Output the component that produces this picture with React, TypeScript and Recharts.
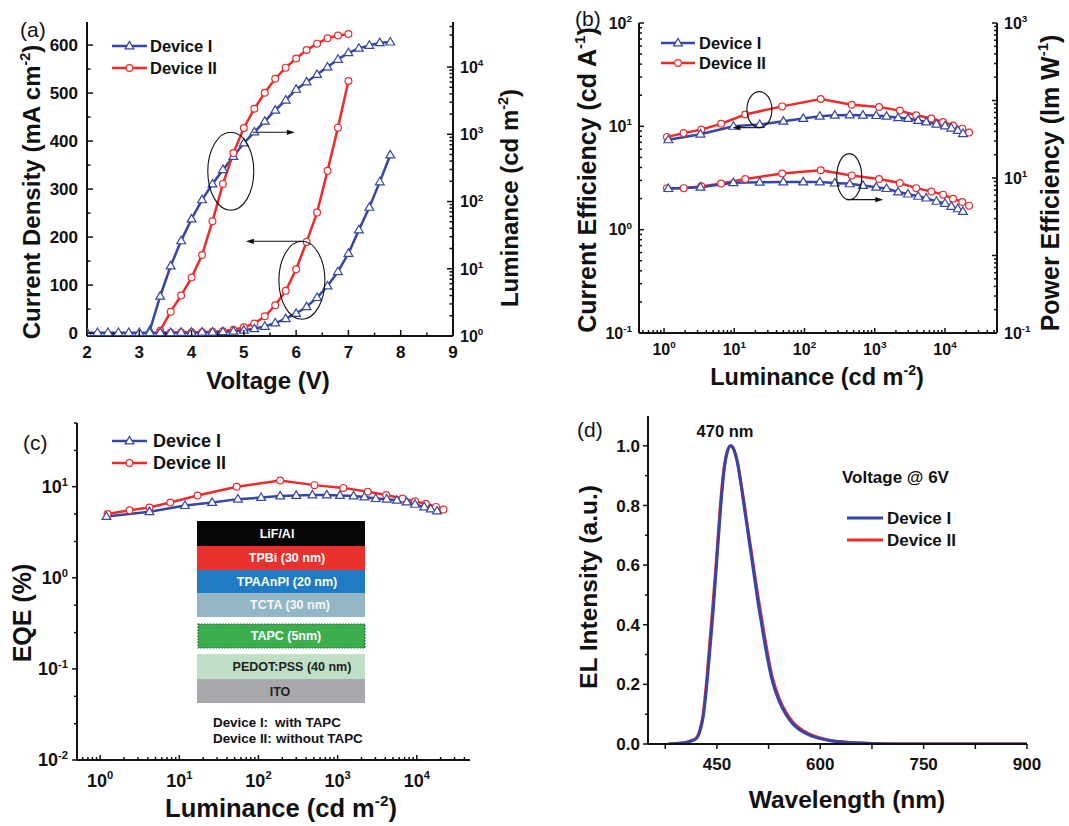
import React from 'react';
import { LineChart, Line, XAxis, YAxis, ReferenceDot } from 'recharts';

const FONT = '"Liberation Sans", Arial, Helvetica, sans-serif';
const BLUE = '#3446a8';
const RED = '#ee2b2b';
const INK = '#111';

// ---- (a) current density / luminance vs voltage ----
const jVolts1 = [2.0, 2.2, 2.4, 2.6, 2.8, 3.0, 3.2, 3.4, 3.6, 3.8, 4.0, 4.2, 4.4, 4.6, 4.8, 5.0, 5.2, 5.4, 5.6, 5.8, 6.0, 6.2, 6.4, 6.6, 6.8, 7.0, 7.2, 7.4, 7.6, 7.8];
const jDev1 = [1, 1, 1, 1, 1, 1, 1, 1, 1, 1.5, 1.5, 2, 2, 3, 4, 6, 9, 14, 21, 30, 41, 55, 74, 98, 128, 166, 215, 262, 315, 371];
const jVolts2 = [3.4, 3.6, 3.8, 4.0, 4.2, 4.4, 4.6, 4.8, 5.0, 5.2, 5.4, 5.6, 5.8, 6.0, 6.2, 6.4, 6.6, 6.8, 7.0];
const jDev2 = [1, 1, 1.5, 2, 2, 3, 4, 7, 12, 20, 35, 58, 88, 133, 190, 251, 338, 428, 525];
const lVolts1 = [3.2, 3.4, 3.6, 3.8, 4.0, 4.2, 4.4, 4.6, 4.8, 5.0, 5.2, 5.4, 5.6, 5.8, 6.0, 6.2, 6.4, 6.6, 6.8, 7.0, 7.2, 7.4, 7.6, 7.8];
const lumDev1 = [1.2, 3.9, 11, 26, 55, 106, 182, 298, 468, 741, 1080, 1560, 2280, 3220, 4660, 6000, 7770, 10000, 13000, 16300, 19000, 21000, 23000, 23500];
const lVolts2 = [3.4, 3.6, 3.8, 4.0, 4.2, 4.4, 4.6, 4.8, 5.0, 5.2, 5.4, 5.6, 5.8, 6.0, 6.2, 6.4, 6.6, 6.8, 7.0];
const lumDev2 = [1.2, 2.3, 4, 7.4, 16, 51, 183, 525, 1240, 2400, 4140, 6700, 9800, 13400, 17900, 22300, 26800, 29500, 30900];

// ---- (b) efficiencies vs luminance ----
const effLum1 = [1.15, 3.3, 9.7, 23, 50, 96, 165, 270, 440, 680, 1050, 1470, 2150, 2970, 4150, 5400, 7550, 10000, 12300, 15200, 18000];
const ceDev1 = [7.4, 8.4, 10, 10.4, 11.2, 11.9, 12.5, 12.8, 12.9, 12.8, 12.7, 12.5, 12.1, 11.9, 11.4, 11.0, 10.5, 10.1, 9.6, 9.1, 8.5];
const peDev1 = [7.3, 7.6, 8.7, 8.8, 8.9, 8.9, 8.9, 8.6, 8.4, 8.0, 7.6, 7.3, 6.6, 6.2, 5.8, 5.5, 5.0, 4.7, 4.3, 4.0, 3.7];
const effLum2 = [1.1, 1.9, 3.4, 6.5, 14.3, 48, 170, 470, 1150, 2270, 3900, 6400, 9400, 13000, 17600, 22000];
const ceDev2 = [7.9, 8.6, 9.3, 10.6, 13.0, 15.6, 18.4, 16.2, 15.4, 14.2, 12.8, 11.9, 11.0, 10.2, 9.5, 8.7];
const peDev2 = [7.4, 7.4, 7.8, 8.5, 9.7, 11.4, 12.6, 10.8, 9.7, 8.6, 7.4, 6.7, 6.1, 5.4, 4.9, 4.4];

// ---- (c) EQE vs luminance ----
const eqeLum1 = [1.2, 4.2, 11.8, 26, 55, 108, 188, 300, 480, 730, 1070, 1590, 2180, 3030, 4170, 5600, 7450, 9500, 12400, 15000, 18000];
const eqeDev1 = [4.7, 5.3, 6.2, 6.7, 7.3, 7.6, 7.9, 8.0, 8.1, 8.1, 8.0, 7.9, 7.7, 7.4, 7.3, 7.1, 6.8, 6.4, 6.0, 5.7, 5.4];
const eqeLum2 = [1.24, 2.35, 4.2, 7.7, 17, 53, 188, 510, 1180, 2400, 4100, 6600, 9500, 13000, 17500, 21700];
const eqeDev2 = [5.0, 5.5, 5.9, 6.7, 8.0, 10, 11.7, 10.4, 9.7, 8.8, 8.1, 7.4, 6.9, 6.5, 6.0, 5.6];

// ---- (d) EL spectra at 6 V ----
const wavelengths = [380, 400, 410, 420, 425, 430, 435, 440, 445, 450, 455, 460, 465, 470, 475, 480, 485, 490, 495, 500, 505, 510, 515, 520, 530, 540, 550, 560, 570, 580, 590, 600, 615, 630, 650, 680, 720, 800, 900];
const elDev1 = [0, 0.003, 0.008, 0.018, 0.04, 0.09, 0.19, 0.32, 0.46, 0.62, 0.78, 0.91, 0.98, 1.0, 0.985, 0.94, 0.87, 0.79, 0.71, 0.63, 0.55, 0.47, 0.4, 0.33, 0.215, 0.145, 0.1, 0.068, 0.048, 0.035, 0.025, 0.018, 0.011, 0.007, 0.004, 0.001, 0, 0, 0];
const elDev2 = [0, 0.003, 0.009, 0.02, 0.045, 0.1, 0.21, 0.35, 0.49, 0.64, 0.8, 0.92, 0.98, 1.0, 0.985, 0.945, 0.875, 0.8, 0.72, 0.645, 0.565, 0.49, 0.42, 0.35, 0.228, 0.155, 0.107, 0.074, 0.053, 0.038, 0.028, 0.02, 0.012, 0.008, 0.004, 0.0015, 0, 0, 0];

// device stack inset of (c)
const stackLayers = ['LiF/Al', 'TPBi (30 nm)', 'TPAAnPI (20 nm)', 'TCTA (30 nm)', 'TAPC (5nm)', 'PEDOT:PSS (40 nm)', 'ITO'];

const pts = (xs: number[], ys: number[]) => xs.map((x, i) => ({ x, y: ys[i] }));

const logTicks = (lo: number, hi: number, mult = [1, 2, 3, 4, 5, 6, 7, 8, 9]) => {
  const out: number[] = [];
  for (let e = Math.floor(Math.log10(lo)) - 1; e <= Math.ceil(Math.log10(hi)); e++) {
    for (const m of mult) {
      const v = +(m * Math.pow(10, e)).toPrecision(4);
      if (v >= lo * 0.999 && v <= hi * 1.001) out.push(v);
    }
  }
  return out;
};
const isDecade = (v: number) => Math.abs(Math.log10(v) - Math.round(Math.log10(v))) < 1e-6;

const powLabel = (v: number, fs: number) => (
  <>
    <tspan>10</tspan>
    <tspan dy={-fs * 0.42} fontSize={fs * 0.62}>{Math.round(Math.log10(v))}</tspan>
  </>
);

type Side = 'bottom' | 'top' | 'left' | 'right';
interface TickCfg {
  side: Side;
  inward: boolean;
  major: (v: number) => boolean;
  label?: (v: number, fs: number) => React.ReactNode;
  fs?: number;
  gap?: number;
  len?: number;
  minorLen?: number;
}

const makeTick = (c: TickCfg) => (props: any) => {
  const { x, y, payload, index } = props;
  const v = Number(payload?.value);
  const big = c.major(v);
  const len = big ? c.len ?? 6 : c.minorLen ?? 3.5;
  const d = c.inward ? 1 : -1;
  let x2 = x;
  let y2 = y;
  if (c.side === 'bottom') y2 = y - d * len;
  else if (c.side === 'top') y2 = y + d * len;
  else if (c.side === 'left') x2 = x + d * len;
  else x2 = x - d * len;
  const fs = c.fs ?? 16;
  const gap = c.gap ?? 8;
  let text: React.ReactNode = null;
  if (big && c.label) {
    const common = { fontFamily: FONT, fontWeight: 700, fontSize: fs, fill: INK };
    const content = c.label(v, fs);
    if (c.side === 'bottom') text = <text x={x} y={y + gap} textAnchor="middle" {...common}>{content}</text>;
    else if (c.side === 'left') text = <text x={x - gap} y={y + fs * 0.36} textAnchor="end" {...common}>{content}</text>;
    else if (c.side === 'right') text = <text x={x + gap} y={y + fs * 0.36} textAnchor="start" {...common}>{content}</text>;
  }
  return (
    <g key={`tk${index}`}>
      <line x1={x} y1={y} x2={x2} y2={y2} stroke={INK} strokeWidth={1.5} />
      {text}
    </g>
  );
};

const triDot = (color: string) => (p: any) => {
  const { cx, cy, index } = p;
  if (cx == null || cy == null) return <g key={`n${index}`} />;
  return (
    <polygon
      key={`t${index}`}
      points={`${cx},${cy - 4.6} ${cx - 4.4},${cy + 2.9} ${cx + 4.4},${cy + 2.9}`}
      fill="#fff"
      stroke={color}
      strokeWidth={1.2}
    />
  );
};
const circDot = (color: string) => (p: any) => {
  const { cx, cy, index } = p;
  if (cx == null || cy == null) return <g key={`n${index}`} />;
  return <circle key={`c${index}`} cx={cx} cy={cy} r={3.4} fill="#fff" stroke={color} strokeWidth={1.2} />;
};

// ellipse + arrow marker placed at a data point
const ellArrow = (rx: number, ry: number, ax1: number, ay1: number, ax2: number, ay2: number) => (p: any) => {
  const { cx, cy } = p;
  const dir = ax2 > ax1 ? 1 : -1;
  const ex = cx + ax2;
  const ey = cy + ay2;
  return (
    <g>
      <ellipse cx={cx} cy={cy} rx={rx} ry={ry} fill="none" stroke={INK} strokeWidth={1.1} />
      <line x1={cx + ax1} y1={cy + ay1} x2={ex - dir * 5} y2={ey} stroke={INK} strokeWidth={1.1} />
      <polygon points={`${ex},${ey} ${ex - dir * 8},${ey - 2.6} ${ex - dir * 8},${ey + 2.6}`} fill={INK} />
    </g>
  );
};

const AX = { stroke: INK, strokeWidth: 2 };
const axisBase = { tickSize: 0, tickMargin: 0, tickLine: false, axisLine: AX, interval: 0 as const, allowDataOverflow: true };

const lineProps = (color: string, dot: any) => ({
  dataKey: 'y',
  stroke: color,
  strokeWidth: 2.5,
  dot,
  activeDot: false,
  isAnimationActive: false,
});

const Panel: React.FC<{ left: number; top: number; w: number; h: number; children: React.ReactNode }> = ({ left, top, w, h, children }) => (
  <div style={{ position: 'absolute', left, top, width: w, height: h }}>{children}</div>
);

// rotated title helper (reads bottom to top)
const VTitle: React.FC<{ cx: number; cy: number; fs: number; children: React.ReactNode }> = ({ cx, cy, fs, children }) => (
  <g transform={`translate(${cx},${cy}) rotate(-90)`}>
    <text x={0} y={fs * 0.35} textAnchor="middle" fontFamily={FONT} fontWeight={700} fontSize={fs} fill={INK}>
      {children}
    </text>
  </g>
);
const Sup: React.FC<{ fs: number; t: string }> = ({ fs, t }) => (
  <>
    <tspan dy={-fs * 0.42} fontSize={fs * 0.6}>{t}</tspan>
    <tspan dy={fs * 0.42}>{')'}</tspan>
  </>
);

const LegendRow: React.FC<{ x1: number; x2: number; y: number; color: string; marker: 'tri' | 'circ' | 'none'; label: string; tx: number; fs: number; sw?: number }> = ({ x1, x2, y, color, marker, label, tx, fs, sw = 2.5 }) => {
  const mx = (x1 + x2) / 2;
  return (
    <g>
      <line x1={x1} y1={y} x2={x2} y2={y} stroke={color} strokeWidth={sw} />
      {marker === 'tri' && (
        <polygon points={`${mx},${y - 4.6} ${mx - 4.4},${y + 2.9} ${mx + 4.4},${y + 2.9}`} fill="#fff" stroke={color} strokeWidth={1.2} />
      )}
      {marker === 'circ' && <circle cx={mx} cy={y} r={3.4} fill="#fff" stroke={color} strokeWidth={1.2} />}
      <text x={tx} y={y + fs * 0.36} fontFamily={FONT} fontWeight={700} fontSize={fs} fill={INK}>{label}</text>
    </g>
  );
};

export default function App() {
  // ---------- ticks ----------
  const vTicks = [2, 2.5, 3, 3.5, 4, 4.5, 5, 5.5, 6, 6.5, 7, 7.5, 8, 8.5, 9];
  const jTicks = [0, 50, 100, 150, 200, 250, 300, 350, 400, 450, 500, 550, 600];
  const lumTicksA = logTicks(1, 46800);
  const lumTicksB = logTicks(0.44, 55000);
  const ceTicks = logTicks(0.1, 100);
  const peTicks = logTicks(0.1, 1000);
  const lumTicksC = logTicks(0.51, 47000);
  const eqeTicks = logTicks(0.01, 50, [1, 2.5, 5]);
  const wlTicks = [375, 450, 525, 600, 675, 750, 825, 900];
  const elTicks = [0, 0.1, 0.2, 0.3, 0.4, 0.5, 0.6, 0.7, 0.8, 0.9, 1.0];

  const isInt = (v: number) => Math.abs(v - Math.round(v)) < 1e-6;

  return (
    <div style={{ position: 'absolute', left: 0, top: 0, width: 1069, height: 826, background: '#fff', overflow: 'hidden' }}>
      {/* (a) */}
      <Panel left={0} top={0} w={535} h={400}>
        <LineChart width={535} height={400} margin={{ top: 22, right: 0, bottom: 0, left: 0 }}>
          <XAxis xAxisId="b" dataKey="x" type="number" domain={[2, 9]} ticks={vTicks} height={64} {...axisBase}
            tick={makeTick({ side: 'bottom', inward: true, major: isInt, label: (v) => String(v), fs: 17, gap: 22 })} />
          <XAxis xAxisId="t" orientation="top" dataKey="x" type="number" domain={[2, 9]} ticks={vTicks} height={0} {...axisBase}
            tick={makeTick({ side: 'top', inward: true, major: isInt })} />
          <YAxis yAxisId="j" type="number" domain={[-6, 648]} ticks={jTicks} width={87} {...axisBase}
            tick={makeTick({ side: 'left', inward: true, major: (v) => v % 100 === 0, label: (v) => String(v), fs: 17, gap: 9 })} />
          <YAxis yAxisId="lum" orientation="right" type="number" scale="log" domain={[1, 46800]} ticks={lumTicksA} width={82} {...axisBase}
            tick={makeTick({ side: 'right', inward: true, major: isDecade, label: powLabel, fs: 16, gap: 7 })} />
          <Line xAxisId="b" yAxisId="lum" data={pts(lVolts1, lumDev1)} {...lineProps(BLUE, triDot(BLUE))} />
          <Line xAxisId="b" yAxisId="lum" data={pts(lVolts2, lumDev2)} {...lineProps(RED, circDot(RED))} />
          <Line xAxisId="b" yAxisId="j" data={pts(jVolts2, jDev2)} {...lineProps(RED, circDot(RED))} />
          <Line xAxisId="b" yAxisId="j" data={pts(jVolts1, jDev1)} {...lineProps(BLUE, triDot(BLUE))} />
          <ReferenceDot xAxisId="b" yAxisId="j" x={4.75} y={337} r={0} ifOverflow="visible" shape={ellArrow(23, 39, 22, -39, 64, -39)} />
          <ReferenceDot xAxisId="b" yAxisId="j" x={6.11} y={110} r={0} ifOverflow="visible" shape={ellArrow(23, 39, 0, -39, -56, -39)} />
        </LineChart>
      </Panel>

      {/* (b) */}
      <Panel left={535} top={0} w={534} h={400}>
        <LineChart width={534} height={400} margin={{ top: 23, right: 0, bottom: 0, left: 0 }}>
          <XAxis xAxisId="b" dataKey="x" type="number" scale="log" domain={[0.44, 55000]} ticks={lumTicksB} height={67} {...axisBase}
            tick={makeTick({ side: 'bottom', inward: true, major: isDecade, label: powLabel, fs: 16, gap: 22, len: 5, minorLen: 3 })} />
          <XAxis xAxisId="t" orientation="top" dataKey="x" type="number" scale="log" domain={[0.44, 55000]} ticks={lumTicksB} height={0} {...axisBase}
            tick={makeTick({ side: 'top', inward: true, major: isDecade, len: 5, minorLen: 3 })} />
          <YAxis yAxisId="ce" type="number" scale="log" domain={[0.1, 100]} ticks={ceTicks} width={104} {...axisBase}
            tick={makeTick({ side: 'left', inward: true, major: isDecade, label: powLabel, fs: 16, gap: 7, len: 5, minorLen: 3 })} />
          <YAxis yAxisId="pe" orientation="right" type="number" scale="log" domain={[0.1, 1000]} ticks={peTicks} width={72} {...axisBase}
            tick={makeTick({ side: 'right', inward: true, major: isDecade, label: (v, fs) => (Math.round(Math.log10(v)) % 2 !== 0 ? powLabel(v, fs) : null), fs: 16, gap: 7, len: 5, minorLen: 3 })} />
          <Line xAxisId="b" yAxisId="ce" data={pts(effLum2, ceDev2)} {...lineProps(RED, circDot(RED))} />
          <Line xAxisId="b" yAxisId="ce" data={pts(effLum1, ceDev1)} {...lineProps(BLUE, triDot(BLUE))} />
          <Line xAxisId="b" yAxisId="pe" data={pts(effLum2, peDev2)} {...lineProps(RED, circDot(RED))} />
          <Line xAxisId="b" yAxisId="pe" data={pts(effLum1, peDev1)} {...lineProps(BLUE, triDot(BLUE))} />
          <ReferenceDot xAxisId="b" yAxisId="ce" x={22.8} y={14.5} r={0} ifOverflow="visible" shape={ellArrow(12.5, 18, 3, 18, -27, 18)} />
          <ReferenceDot xAxisId="b" yAxisId="ce" x={433} y={3.26} r={0} ifOverflow="visible" shape={ellArrow(12.5, 23, -3, 23, 34, 23)} />
        </LineChart>
      </Panel>

      {/* (c) */}
      <Panel left={0} top={400} w={535} h={426}>
        <LineChart width={535} height={426} margin={{ top: 23, right: 65, bottom: 0, left: 0 }}>
          <XAxis xAxisId="b" dataKey="x" type="number" scale="log" domain={[0.51, 47000]} ticks={lumTicksC} height={66} {...axisBase}
            tick={makeTick({ side: 'bottom', inward: true, major: isDecade, label: powLabel, fs: 18, gap: 27, len: 5, minorLen: 3 })} />
          <XAxis xAxisId="t" orientation="top" dataKey="x" type="number" scale="log" domain={[0.51, 47000]} height={0} {...axisBase} tick={false} />
          <YAxis yAxisId="e" type="number" scale="log" domain={[0.01, 50]} ticks={eqeTicks} width={77} {...axisBase}
            tick={makeTick({ side: 'left', inward: false, major: isDecade, label: powLabel, fs: 18, gap: 9, len: 5, minorLen: 3 })} />
          <YAxis yAxisId="r" orientation="right" type="number" scale="log" domain={[0.01, 50]} width={0} {...axisBase} tick={false} />
          <Line xAxisId="b" yAxisId="e" data={pts(eqeLum2, eqeDev2)} {...lineProps(RED, circDot(RED))} />
          <Line xAxisId="b" yAxisId="e" data={pts(eqeLum1, eqeDev1)} {...lineProps(BLUE, triDot(BLUE))} />
        </LineChart>
      </Panel>

      {/* (d) */}
      <Panel left={535} top={400} w={534} h={426}>
        <LineChart width={534} height={426} margin={{ top: 16, right: 42, bottom: 0, left: 0 }}>
          <XAxis xAxisId="b" dataKey="x" type="number" domain={[350, 900]} ticks={wlTicks} height={82} {...axisBase}
            tick={makeTick({ side: 'bottom', inward: false, major: () => true, label: (v) => ((v - 450) % 150 === 0 ? String(v) : null), fs: 17, gap: 26, len: 5 })} />
          <XAxis xAxisId="t" orientation="top" dataKey="x" type="number" domain={[350, 900]} height={0} {...axisBase} tick={false} />
          <YAxis yAxisId="i" type="number" domain={[0, 1.1]} ticks={elTicks} width={113} {...axisBase}
            tick={makeTick({ side: 'left', inward: false, major: (v) => Math.round(v * 10) % 2 === 0, label: (v) => v.toFixed(1), fs: 17, gap: 8, len: 5, minorLen: 3 })} />
          <YAxis yAxisId="r" orientation="right" type="number" domain={[0, 1.1]} width={0} {...axisBase} tick={false} />
          <Line xAxisId="b" yAxisId="i" type="monotone" data={pts(wavelengths, elDev2)} dataKey="y" stroke={RED} strokeWidth={3} dot={false} activeDot={false} isAnimationActive={false} />
          <Line xAxisId="b" yAxisId="i" type="monotone" data={pts(wavelengths, elDev1)} dataKey="y" stroke={BLUE} strokeWidth={3} dot={false} activeDot={false} isAnimationActive={false} />
        </LineChart>
      </Panel>

      {/* text, legends and inset */}
      <svg width={1069} height={826} style={{ position: 'absolute', left: 0, top: 0, pointerEvents: 'none' }}>
        <g fontFamily={FONT} fill={INK}>
          <text x={20} y={37} fontSize={21}>(a)</text>
          <text x={575} y={26} fontSize={21}>(b)</text>
          <text x={23} y={450} fontSize={21}>(c)</text>
          <text x={577} y={437} fontSize={21}>(d)</text>
        </g>

        {/* (a) titles */}
        <VTitle cx={32} cy={192} fs={24}>Current Density (mA cm<Sup fs={24} t="-2" /></VTitle>
        <VTitle cx={510} cy={198} fs={24}>Luminance (cd m<Sup fs={24} t="-2" /></VTitle>
        <text x={268} y={389} textAnchor="middle" fontFamily={FONT} fontWeight={700} fontSize={24} fill={INK}>Voltage (V)</text>
        <LegendRow x1={112} x2={147} y={46} color={BLUE} marker="tri" label="Device I" tx={150} fs={16.5} />
        <LegendRow x1={112} x2={147} y={68} color={RED} marker="circ" label="Device II" tx={150} fs={16.5} />

        {/* (b) titles */}
        <VTitle cx={587} cy={180} fs={25}>Current Efficiency (cd A<Sup fs={25} t="-1" /></VTitle>
        <VTitle cx={1050} cy={183} fs={25}>Power Efficiency (lm W<Sup fs={25} t="-1" /></VTitle>
        <text x={817} y={385} textAnchor="middle" fontFamily={FONT} fontWeight={700} fontSize={23.5} fill={INK}>
          Luminance (cd m<Sup fs={23.5} t="-2" />
        </text>
        <LegendRow x1={661} x2={695} y={43} color={BLUE} marker="tri" label="Device I" tx={699} fs={16.5} />
        <LegendRow x1={661} x2={695} y={63} color={RED} marker="circ" label="Device II" tx={699} fs={16.5} />

        {/* (c) titles */}
        <VTitle cx={22} cy={613} fs={25}>EQE (%)</VTitle>
        <text x={281} y={817} textAnchor="middle" fontFamily={FONT} fontWeight={700} fontSize={25.5} fill={INK}>
          Luminance (cd m<Sup fs={25.5} t="-2" />
        </text>
        <LegendRow x1={112} x2={147} y={441} color={BLUE} marker="tri" label="Device I" tx={153} fs={18} />
        <LegendRow x1={112} x2={147} y={463} color={RED} marker="circ" label="Device II" tx={153} fs={18} />

        {/* (c) device stack */}
        <g fontFamily={FONT} fontWeight={700} fontSize={12.5} textAnchor="middle">
          <rect x={197} y={521} width={168} height={25} fill="#060606" />
          <text x={277} y={538} fill="#fff">{stackLayers[0]}</text>
          <rect x={197} y={546} width={168} height={24} fill="#e8302c" />
          <text x={287} y={562} fill="#fff">{stackLayers[1]}</text>
          <rect x={197} y={570} width={168} height={23} fill="#1f7bc4" />
          <text x={287} y={586} fill="#fff">{stackLayers[2]}</text>
          <rect x={197} y={593} width={168} height={24} fill="#94b7c5" />
          <text x={290} y={609} fill="#f4f8fa">{stackLayers[3]}</text>
          <rect x={198} y={624} width={167} height={24} fill="#3cae4e" stroke="#1d5c48" strokeWidth={1.2} strokeDasharray="1.5 1.5" />
          <text x={286} y={640} fill="#fff">{stackLayers[4]}</text>
          <rect x={197} y={654} width={168} height={25} fill="#bfe0c6" />
          <text x={292} y={671} fill="#222">{stackLayers[5]}</text>
          <rect x={197} y={679} width={168} height={24} fill="#a9a9ad" />
          <text x={280} y={696} fill="#222">{stackLayers[6]}</text>
        </g>
        <g fontFamily={FONT} fontWeight={700} fontSize={13.4} fill={INK}>
          <text x={213} y={727}>Device I:</text>
          <text x={275} y={727}>with TAPC</text>
          <text x={213} y={743}>Device II:</text>
          <text x={276} y={743}>without TAPC</text>
        </g>

        {/* (d) titles */}
        <VTitle cx={588} cy={587} fs={24.5}>EL Intensity (a.u.)</VTitle>
        <text x={847} y={808} textAnchor="middle" fontFamily={FONT} fontWeight={700} fontSize={24.5} fill={INK}>Wavelength (nm)</text>
        <text x={725} y={437} textAnchor="middle" fontFamily={FONT} fontWeight={700} fontSize={16.5} fill={INK}>470 nm</text>
        <text x={842} y={483} fontFamily={FONT} fontWeight={700} fontSize={17} fill={INK}>Voltage @ 6V</text>
        <LegendRow x1={847} x2={883} y={518} color={BLUE} marker="none" label="Device I" tx={887} fs={17} sw={3} />
        <LegendRow x1={847} x2={883} y={540} color={RED} marker="none" label="Device II" tx={887} fs={17} sw={3} />
      </svg>
    </div>
  );
}
